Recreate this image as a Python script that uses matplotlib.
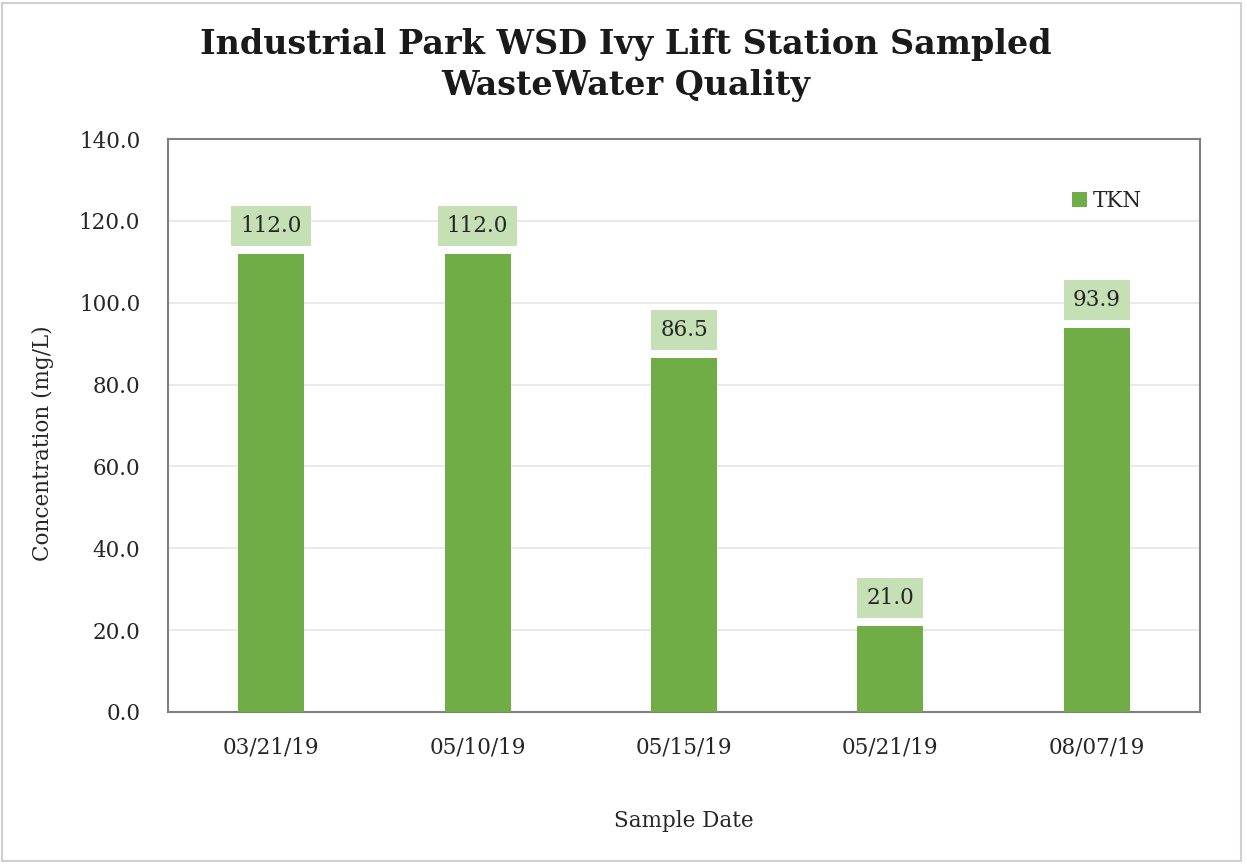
import matplotlib.pyplot as plt
from matplotlib.patches import Rectangle

# Data
dates = ['03/21/19', '05/10/19', '05/15/19', '05/21/19', '08/07/19']
tkn = [112.0, 112.0, 86.5, 21.0, 93.9]

plt.rcParams['font.family'] = ['DejaVu Serif']

bar_color = '#70ad47'
label_bg = '#c5e0b4'

fig = plt.figure(figsize=(12.47, 8.64), dpi=100)
ax = fig.add_axes([168 / 1247, 1 - 712 / 864, (1200 - 168) / 1247, (712 - 139) / 864])

x = range(len(dates))
bars = ax.bar(x, tkn, width=0.32, color=bar_color, label='TKN', zorder=3)

for xi, v in zip(x, tkn):
    ax.annotate(f'{v:.1f}', xy=(xi, v), xytext=(0, 20), textcoords='offset points',
                ha='center', va='center', fontsize=15.5, color='#262626',
                bbox=dict(boxstyle='square,pad=0.42', fc=label_bg, ec='none'), zorder=4)

ax.set_xlim(-0.5, len(dates) - 0.5)
ax.set_ylim(0, 140)
ax.set_yticks(range(0, 141, 20))
ax.set_yticklabels([f'{t:.1f}' for t in range(0, 141, 20)])
ax.set_xticks(list(x))
ax.set_xticklabels(dates)
ax.tick_params(axis='both', length=0, labelsize=15.5, colors='#262626')
ax.tick_params(axis='x', pad=18)
ax.tick_params(axis='y', pad=20)
ax.yaxis.grid(True, color='#e6e6e6', linewidth=1.2, zorder=0)
ax.set_axisbelow(True)
for s in ax.spines.values():
    s.set_color('#7f7f7f')
    s.set_linewidth(1.5)

ax.set_xlabel('Sample Date', fontsize=15.5, color='#262626', labelpad=37)
ax.set_ylabel('Concentration (mg/L)', fontsize=15.5, color='#262626', labelpad=14)
ax.yaxis.set_label_coords(-0.11, 0.47)

fig.text(0.502, 1 - 65 / 864,
         'Industrial Park WSD Ivy Lift Station Sampled\nWasteWater Quality',
         ha='center', va='center', fontsize=24, fontweight='bold',
         color='#1a1a1a', linespacing=1.3)

leg = ax.legend(loc='upper right', bbox_to_anchor=(0.963, 0.945), frameon=False,
                fontsize=15.5, handlelength=0.7, handleheight=0.7, handletextpad=0.3)
for t in leg.get_texts():
    t.set_color('#262626')

fig.patches.append(Rectangle((0.002, 0.003), 0.993, 0.994, transform=fig.transFigure,
                             fill=False, ec='#d0d0d0', lw=1.5))

fig.savefig('out.png', dpi=100)
